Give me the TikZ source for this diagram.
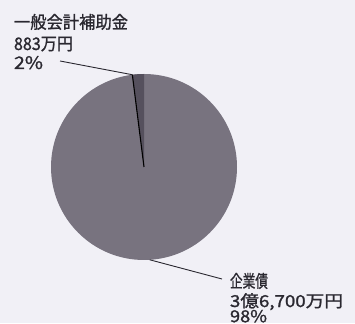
\documentclass[tikz,border=0pt]{standalone}
\usepackage{fontspec}
\usepackage{graphicx}
\usetikzlibrary{calc}
\newfontfamily\jp[FakeBold=1.2]{Noto Sans CJK JP}
\definecolor{bgc}{HTML}{F1F0F6}
\definecolor{piemain}{HTML}{78737F}
\definecolor{pieslice}{HTML}{55505D}
\definecolor{inkc}{HTML}{2A2830}
\newcommand{\fitw}[2]{\resizebox{#1pt}{\height}{#2}}
\begin{document}
\begin{tikzpicture}[x=1pt,y=1pt,
  lbl/.style={anchor=base west,inner sep=0pt,outer sep=0pt,font=\jp\fontsize{17.3}{17.3}\selectfont,text=inkc},
  lbls/.style={lbl,font=\jp\fontsize{16.5}{16.5}\selectfont},
  leader/.style={draw=inkc,line width=0.9pt}]
\fill[bgc] (0,0) rectangle (355,323);
\useasboundingbox (0,0) rectangle (355,323);
\coordinate (c) at (144,156);
\fill[piemain] (c) circle (93);
\fill[pieslice] (c) -- ++(90:93) arc (90:97.2:93) -- cycle;
\draw[black,line width=1.1pt] (c) -- ++(97.2:93);
\coordinate (s1) at ($(c)+(97.2:93)$);
\coordinate (s2) at ($(c)+(273.6:93)$);
% top label
\node[lbl] (t1) at (14,294.5) {\fitw{114}{一般会計補助金}};
\node[lbl] (t2) at (14,273) {\fitw{59}{883万円}};
\node[lbl] (t3) at (14,254) {\fitw{29}{2\%}};
% bottom label
\node[lbl] (b1) at (230,35.5) {\fitw{38}{企業債}};
\node[lbls] (b2) at (230,16) {\fitw{113}{3億6,700万円}};
\node[lbls] (b3) at (230,0.8) {\fitw{37}{98\%}};
\coordinate (l1) at (60,262);
\coordinate (l2) at (222,44);
\draw[leader] (l1) -- (s1);
\draw[leader] (s2) -- (l2);
\end{tikzpicture}
\end{document}
